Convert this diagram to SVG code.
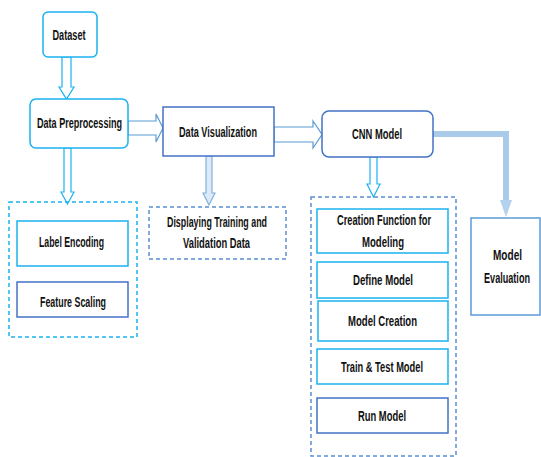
<svg xmlns="http://www.w3.org/2000/svg" width="541" height="457" viewBox="0 0 541 457">
<style>
text{font-family:"Liberation Sans Narrow","Liberation Sans",Arial,sans-serif;font-weight:bold;font-size:14.5px;fill:#111;text-anchor:middle}
.cy{fill:#fff;stroke:#1ab2f0;stroke-width:1.5}
.bl{fill:#fff;stroke:#4472c4;stroke-width:1.5}
.lb{fill:#fff;stroke:#5b9bd5;stroke-width:1.5}
.dcy{fill:none;stroke:#1ab2f0;stroke-width:1.5;stroke-dasharray:4 3}
.dbl{fill:none;stroke:#5b8fd5;stroke-width:1.5;stroke-dasharray:4 3}
.acy{fill:#fff;stroke:#1ab2f0;stroke-width:1.2}
.abl{fill:#fff;stroke:#5b9bd5;stroke-width:1.2}
.alb{fill:#deebf7;stroke:#7fb0e0;stroke-width:1.2}
</style>
<rect width="541" height="457" fill="#fff"/>
<g id="connectors">
<polygon class="acy" points="62,57 71,57 71,87 74,87 66.5,99 59,87 62,87"/>
<polygon class="abl" points="128,121 156,121 156,114 163,128 156,142 156,135 128,135"/>
<polygon class="acy" points="64,148 71,148 71,192 74,192 67.5,204 61,192 64,192"/>
<polygon class="alb" points="206,156 212,156 212,193 215,193 209,205 203,193 206,193"/>
<polygon class="abl" points="274,127 313,127 313,121 322,134.5 313,148 313,142 274,142"/>
<polygon class="acy" points="370,157 377,157 377,184 380,184 373.5,197 367,184 370,184"/>
<path d="M433,134 H506 V202" fill="none" stroke="#a9cbe9" stroke-width="6"/>
<polygon points="500,200 512,200 506,217" fill="#b4d2ee"/>
</g>
<g id="dataset"><rect class="cy" x="43" y="12" width="54" height="45" rx="5"/><text x="69" y="40" textLength="33" lengthAdjust="spacingAndGlyphs">Dataset</text></g>
<g id="preprocessing"><rect class="cy" x="30" y="99" width="98" height="49" rx="6"/><text x="79.5" y="128" textLength="85" lengthAdjust="spacingAndGlyphs">Data Preprocessing</text></g>
<g id="visualization"><rect class="bl" x="163" y="107" width="111" height="49"/><text x="218" y="137" textLength="78" lengthAdjust="spacingAndGlyphs">Data Visualization</text></g>
<g id="cnn"><rect class="bl" x="322" y="111" width="111" height="46" rx="7"/><text x="377" y="139" textLength="50" lengthAdjust="spacingAndGlyphs">CNN Model</text></g>
<g id="preprocessing-group"><rect class="dcy" x="9" y="202" width="128" height="135"/></g>
<g id="label-encoding"><rect class="cy" x="17" y="221" width="111" height="45"/><text x="71.5" y="247" textLength="65" lengthAdjust="spacingAndGlyphs">Label Encoding</text></g>
<g id="feature-scaling"><rect class="bl" x="17" y="282" width="111" height="35"/><text x="73" y="307" textLength="66" lengthAdjust="spacingAndGlyphs">Feature Scaling</text></g>
<g id="displaying"><rect class="dbl" x="149" y="207" width="137" height="52"/><text x="217" y="227" textLength="100" lengthAdjust="spacingAndGlyphs">Displaying Training and</text><text x="216.5" y="248" textLength="67" lengthAdjust="spacingAndGlyphs">Validation Data</text></g>
<g id="cnn-group"><rect class="dbl" x="311" y="197" width="145" height="259"/></g>
<g id="creation-function"><rect class="cy" x="317" y="209" width="131" height="44"/><text x="384" y="225" textLength="94" lengthAdjust="spacingAndGlyphs">Creation Function for</text><text x="383" y="247" textLength="42" lengthAdjust="spacingAndGlyphs">Modeling</text></g>
<g id="define-model"><rect class="cy" x="317" y="262" width="131" height="36"/><text x="383" y="285" textLength="60" lengthAdjust="spacingAndGlyphs">Define Model</text></g>
<g id="model-creation"><rect class="cy" x="318" y="301" width="130" height="40"/><text x="382.5" y="326" textLength="69" lengthAdjust="spacingAndGlyphs">Model Creation</text></g>
<g id="train-test"><rect class="cy" x="317" y="349" width="131" height="35"/><text x="382" y="372" textLength="82" lengthAdjust="spacingAndGlyphs">Train &amp; Test Model</text></g>
<g id="run-model"><rect class="bl" x="317" y="398" width="131" height="35"/><text x="382" y="421" textLength="48" lengthAdjust="spacingAndGlyphs">Run Model</text></g>
<g id="model-evaluation"><rect class="lb" x="471" y="218" width="69" height="97"/><text x="507.5" y="260" textLength="29" lengthAdjust="spacingAndGlyphs">Model</text><text x="507" y="283" textLength="46" lengthAdjust="spacingAndGlyphs">Evaluation</text></g>
</svg>
